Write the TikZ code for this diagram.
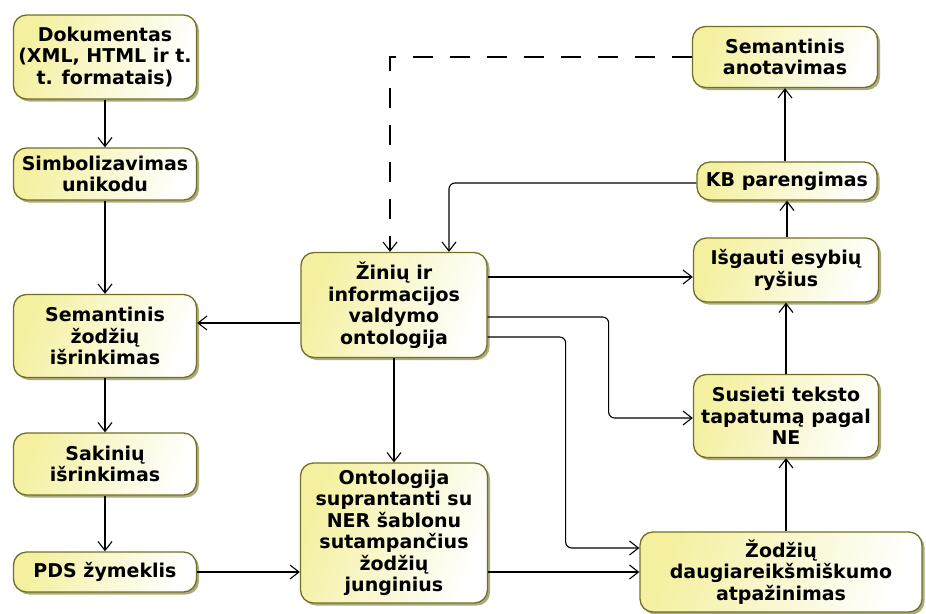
\documentclass[tikz,border=0pt]{standalone}
\usepackage{fontspec}
\setmainfont{DejaVu Sans}
\usetikzlibrary{arrows.meta,shadows}

\definecolor{boxyel}{RGB}{244,240,160}
\definecolor{boxline}{RGB}{112,112,36}
\definecolor{boxshade}{RGB}{150,150,95}

\tikzset{
  box/.style={draw=boxline, line width=1.3pt, rounded corners=13pt,
    left color=boxyel, right color=white, shading angle=70,
    align=center, inner sep=2pt,
    font=\bfseries\fontsize{19}{21.5}\selectfont,
    drop shadow={shadow xshift=2.5pt, shadow yshift=-2.5pt,
      fill=boxshade, opacity=0.8}},
  flow/.style={draw=black, line width=1.1pt, rounded corners=6pt,
    -{Straight Barb[length=9pt,width=14pt,line width=1.1pt]}},
  dashflow/.style={flow, sharp corners, dash pattern=on 20pt off 17pt}
}

\begin{document}
\begin{tikzpicture}[x=1pt,y=-1pt]
  \useasboundingbox (0,0) rectangle (926,613);

  % left column
  \node[box, minimum width=183, minimum height=84] (dok) at (105,57)
    {Dokumentas\\(XML, HTML ir t.\\t. formatais)};
  \node[box, minimum width=183, minimum height=52] (simb) at (105,174)
    {Simbolizavimas\\unikodu};
  \node[box, minimum width=183, minimum height=83] (semz) at (105,336)
    {Semantinis\\žodžių\\išrinkimas};
  \node[box, minimum width=183, minimum height=62] (sak) at (105,464)
    {Sakinių\\išrinkimas};
  \node[box, minimum width=183, minimum height=40] (pds) at (105,572)
    {PDS žymeklis};

  % middle column
  \node[box, minimum width=186, minimum height=105] (zin) at (394,305)
    {Žinių ir\\informacijos\\valdymo\\ontologija};
  \node[box, minimum width=187, minimum height=140] (ontsup) at (394,533)
    {Ontologija\\suprantanti su\\NER šablonu\\sutampančius\\žodžių\\junginius};

  % right column
  \node[box, minimum width=185, minimum height=61] (sanot) at (785,57)
    {Semantinis\\anotavimas};
  \node[box, minimum width=180, minimum height=38] (kb) at (787,181)
    {KB parengimas};
  \node[box, minimum width=185, minimum height=64] (isg) at (786,270)
    {Išgauti esybių\\ryšius};
  \node[box, minimum width=185, minimum height=83] (sus) at (786,416)
    {Susieti teksto\\tapatumą pagal\\NE};
  \node[box, minimum width=282, minimum height=80] (zod) at (781,572)
    {Žodžių\\daugiareikšmiškumo\\atpažinimas};

  % left column flow
  \draw[flow] (dok) -- (simb);
  \draw[flow] (simb) -- (semz);
  \draw[flow] (semz) -- (sak);
  \draw[flow] (sak) -- (pds);
  \draw[flow] (pds.east) -- (pds.east -| ontsup.west);

  % from the ontology
  \draw[flow] ([yshift=-18pt]zin.west) -- ([yshift=13pt]semz.east);
  \draw[flow] (zin) -- (ontsup);
  \draw[flow] ([yshift=28pt]zin.east) -- ([yshift=-7pt]isg.west);
  \draw[flow] ([yshift=-12pt]zin.east) -- ++(121,0) |- ([yshift=-2pt]sus.west);
  \draw[flow] ([yshift=-32pt]zin.east) -- ++(78,0) |- ([yshift=24pt]zod.west);
  \draw[flow] (zod.west -| ontsup.east) -- (zod.west);

  % right column flow
  \draw[flow] (zod.north -| sus.south) -- (sus.south);
  \draw[flow] (sus.north -| isg.south) -- (isg.south);
  \draw[flow] (isg.north -| kb.south) -- (kb.south);
  \draw[flow] (kb.north -| sanot.south) -- (sanot.south);

  % feedback into the ontology
  \draw[flow] ([yshift=-2pt]kb.west) -| ([xshift=55pt]zin.north);
  \draw[dashflow] (sanot.west) -| ([xshift=-4pt]zin.north);
\end{tikzpicture}
\end{document}
